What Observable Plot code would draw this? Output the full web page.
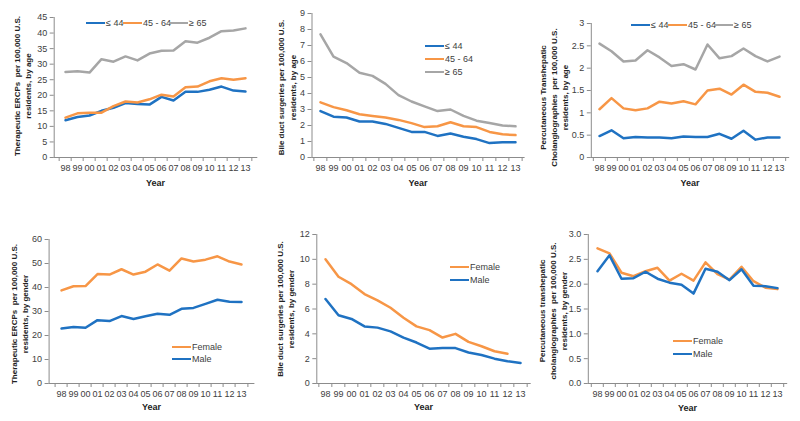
<!DOCTYPE html>
<html><head><meta charset="utf-8">
<script src="https://cdn.jsdelivr.net/npm/d3@7"></script>
<script src="https://cdn.jsdelivr.net/npm/@observablehq/plot@0.6"></script>
<style>
body{margin:0;background:#fff;}
#chart{position:relative;width:800px;height:421px;overflow:hidden;font-family:"Liberation Sans",Arial,sans-serif;background:#fff;}
.panel{position:absolute;}
.leg{position:absolute;height:12px;font-size:9px;color:#404040;display:flex;align-items:center;white-space:nowrap;}
.sw{display:inline-block;width:19px;height:0;border-top:2.5px solid;margin-right:1px;}
g[aria-label="ylabel"] text{letter-spacing:-0.35px;}
</style></head><body><div id="chart"></div>
<script>
const years = ["98","99","00","01","02","03","04","05","06","07","08","09","10","11","12","13"];
const ageNames = ["≤ 44","45 - 64","≥ 65"];
const genderNames = ["Female","Male"];

const ercpAge44 = [12.0,13.0,13.5,15.0,16.0,17.5,17.2,17.0,19.5,18.3,21.1,21.1,21.8,22.8,21.5,21.2];
const ercpAge45 = [12.8,14.2,14.4,14.4,16.5,18.0,17.7,18.7,20.2,19.6,22.6,22.8,24.5,25.5,25.0,25.5];
const ercpAge65 = [27.5,27.7,27.3,31.6,30.8,32.5,31.2,33.4,34.3,34.4,37.4,36.9,38.5,40.6,40.8,41.5];

const surgAge44 = [2.9,2.55,2.5,2.25,2.25,2.1,1.85,1.6,1.6,1.35,1.5,1.3,1.15,0.9,0.95,0.95];
const surgAge45 = [3.45,3.15,2.95,2.7,2.6,2.5,2.35,2.15,1.9,1.95,2.2,1.95,1.9,1.6,1.45,1.4];
const surgAge65 = [7.7,6.3,5.9,5.3,5.1,4.6,3.9,3.5,3.2,2.9,3.0,2.6,2.3,2.15,2.0,1.95];

const ptcAge44 = [0.48,0.61,0.43,0.46,0.45,0.45,0.43,0.47,0.46,0.46,0.53,0.42,0.60,0.40,0.45,0.45];
const ptcAge45 = [1.08,1.33,1.10,1.06,1.10,1.25,1.21,1.26,1.19,1.50,1.54,1.41,1.63,1.47,1.45,1.36];
const ptcAge65 = [2.55,2.38,2.15,2.17,2.40,2.24,2.05,2.09,1.97,2.53,2.22,2.27,2.44,2.27,2.15,2.26];

const ercpFemale = [38.8,40.5,40.6,45.6,45.4,47.6,45.4,46.6,49.6,47.0,52.1,50.8,51.6,53.0,50.8,49.6];
const ercpMale = [22.9,23.5,23.2,26.4,26.0,28.1,26.9,28.0,29.1,28.6,31.1,31.5,33.2,34.9,34.1,34.0];

const surgFemale = [10.0,8.6,8.0,7.2,6.7,6.1,5.3,4.6,4.3,3.7,4.0,3.35,3.0,2.6,2.4,null];
const surgMale = [6.8,5.5,5.2,4.6,4.5,4.2,3.7,3.3,2.8,2.85,2.85,2.5,2.3,2.0,1.8,1.65];

const ptcFemale = [2.72,2.62,2.23,2.16,2.26,2.33,2.07,2.21,2.07,2.44,2.20,2.09,2.35,2.06,1.93,1.90];
const ptcMale = [2.26,2.58,2.11,2.12,2.25,2.11,2.03,1.99,1.81,2.31,2.25,2.08,2.30,1.97,1.96,1.92];

const BLUE = "#1f72c2", ORANGE = "#f79646", GRAY = "#a6a6a6";
const AXIS = "#8c8c8c", TXT = "#404040";
const ageColors = [BLUE, ORANGE, GRAY];
const genderColors = [ORANGE, BLUE];

const chart = document.getElementById("chart");

function panel(o) {
  const data = [];
  o.series.forEach((vals, si) => vals.forEach((v, i) => { if (v != null) data.push({year: years[i], value: v, key: o.names[si]}); }));
  const step = (o.width - o.ml - o.mr) / years.length;
  const ticks = d3.range(0, o.yMax + o.yStep / 2, o.yStep);
  const svg = Plot.plot({
    width: o.width, height: o.height,
    marginLeft: o.ml, marginRight: o.mr, marginTop: o.mt, marginBottom: o.mb,
    style: {fontFamily: '"Liberation Sans", Arial, sans-serif', fontSize: "9px", color: TXT, background: "transparent", overflow: "visible"},
    x: {type: "point", domain: years, padding: 0.5, label: null},
    y: {domain: [0, o.yMax], label: null},
    color: {domain: o.names, range: o.colors},
    marks: [
      Plot.axisY({ticks, tickSize: 4, tickPadding: 3, tickFormat: o.yFormat, stroke: AXIS, fill: TXT, label: null}),
      Plot.axisX({tickSize: 4, text: null, dx: -step / 2, stroke: AXIS, label: null}),
      Plot.axisX({ticks: [years[years.length - 1]], tickSize: 4, text: null, dx: step / 2, stroke: AXIS, label: null}),
      Plot.axisX({tickSize: 0, tickPadding: 7, fill: TXT, label: null}),
      Plot.frame({anchor: "left", stroke: AXIS}),
      Plot.frame({anchor: "bottom", stroke: AXIS}),
      Plot.line(data, {x: "year", y: "value", z: "key", stroke: "key", strokeWidth: 2.5, strokeLinejoin: "round"}),
      Plot.text([o.ylabel], {frameAnchor: "left", rotate: -90, dx: o.ldx, dy: o.ldy, fontWeight: "bold", fontSize: 8,
        lineHeight: 1.4, fill: "#222", textAnchor: "middle", ariaLabel: "ylabel"}),
      Plot.text(["Year"], {frameAnchor: "bottom", dy: o.ydy, fontWeight: "bold", fontSize: 9, fill: "#222", lineAnchor: "middle"})
    ]
  });
  const div = document.createElement("div");
  div.className = "panel";
  div.style.left = o.left + "px"; div.style.top = o.top + "px";
  div.appendChild(svg);
  chart.appendChild(div);
  o.legend.forEach(([x, y], i) => {
    const it = document.createElement("div");
    it.className = "leg";
    it.style.left = x + "px"; it.style.top = (y - 6) + "px";
    const sw = document.createElement("span");
    sw.className = "sw"; sw.style.borderTopColor = o.colors[i];
    it.appendChild(sw);
    it.appendChild(document.createTextNode(o.names[i]));
    chart.appendChild(it);
  });
}

panel({left: 0, top: 0, width: 265, height: 195, ml: 53.7, mr: 8.7, mt: 17, mb: 38,
  yMax: 45, yStep: 5, yFormat: d => d, names: ageNames, colors: ageColors,
  series: [ercpAge44, ercpAge45, ercpAge65],
  ylabel: "Therapeutic ERCPs  per 100,000 U.S.\nresidents, by age", ldx: -32.5, ldy: -1.5, ydy: 26,
  legend: [[86, 22.6], [123, 22.6], [169, 22.6]]});

panel({left: 265, top: 0, width: 270, height: 195, ml: 46.5, mr: 11.4, mt: 13, mb: 38,
  yMax: 9, yStep: 1, yFormat: d => d, names: ageNames, colors: ageColors,
  series: [surgAge44, surgAge45, surgAge65],
  ylabel: "Bile duct surgeries per 100,000 U.S.\nresidents, by age", ldx: -25.5, ldy: 2, ydy: 26,
  legend: [[425, 45.7], [425, 59], [425, 71.7]]});

panel({left: 530, top: 0, width: 270, height: 195, ml: 60.8, mr: 11.8, mt: 23, mb: 38,
  yMax: 3, yStep: 0.5, yFormat: d => d, names: ageNames, colors: ageColors,
  series: [ptcAge44, ptcAge45, ptcAge65],
  ylabel: "Percutaneous Transhepatic\nCholangiographies  per 100,000 U.S.\nresidents, by age", ldx: -38, ldy: 7, ydy: 26,
  legend: [[631, 25], [668, 25], [714, 25]]});

panel({left: 0, top: 200, width: 265, height: 221, ml: 48.6, mr: 11.6, mt: 39, mb: 38,
  yMax: 60, yStep: 10, yFormat: d => d, names: genderNames, colors: genderColors,
  series: [ercpFemale, ercpMale],
  ylabel: "Therapeutic ERCPs  per 100,000 U.S.\nresidents, by gender", ldx: -30, ldy: 2.5, ydy: 24,
  legend: [[172, 346.7], [172, 359]]});

panel({left: 265, top: 200, width: 270, height: 221, ml: 51.3, mr: 5.3, mt: 34, mb: 38,
  yMax: 12, yStep: 2, yFormat: d => d, names: genderNames, colors: genderColors,
  series: [surgFemale, surgMale],
  ylabel: "Bile duct surgeries per 100,000 U.S.\nresidents, by gender", ldx: -32, ldy: 0, ydy: 24,
  legend: [[450, 267.3], [450, 280]]});

panel({left: 530, top: 200, width: 270, height: 221, ml: 57.8, mr: 13.8, mt: 34, mb: 38,
  yMax: 3, yStep: 0.5, yFormat: d3.format(".1f"), names: genderNames, colors: genderColors,
  series: [ptcFemale, ptcMale],
  ylabel: "Percutaneous transhepatic\ncholangiographies  per 100,000 U.S.\nresidents, by gender", ldx: -36, ldy: 2, ydy: 25,
  legend: [[673, 341], [673, 354]]});
</script></body></html>
